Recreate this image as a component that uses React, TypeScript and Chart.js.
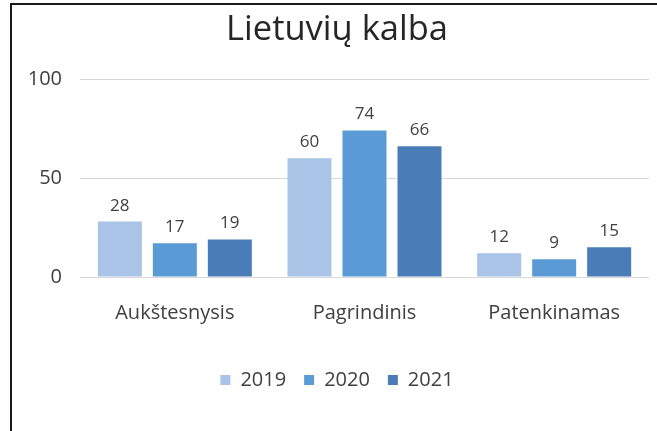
import React, { useEffect, useRef } from "react";
import { Chart, registerables } from "chart.js";

Chart.register(...registerables);

const categories = ["Aukštesnysis", "Pagrindinis", "Patenkinamas"];
const seriesNames = ["2019", "2020", "2021"];
const values2019 = [28, 60, 12];
const values2020 = [17, 74, 9];
const values2021 = [19, 66, 15];
const yTickValues = [0, 50, 100];
const titleText = "Lietuvių kalba";

const seriesColors = ["#a9c4e6", "#5b9bd5", "#4a7db8"];
const FONT = "'Open Sans', 'Noto Sans', sans-serif";
const TEXT = "#404040";

const dataLabelPlugin = {
  id: "dataLabels",
  afterDatasetsDraw(chart: any) {
    const ctx = chart.ctx;
    ctx.save();
    ctx.font = `17px ${FONT}`;
    ctx.fillStyle = TEXT;
    ctx.textAlign = "center";
    ctx.textBaseline = "alphabetic";
    chart.data.datasets.forEach((ds: any, i: number) => {
      const meta = chart.getDatasetMeta(i);
      meta.data.forEach((el: any, j: number) => {
        ctx.fillText(String(ds.data[j]), el.x, el.y - 11);
      });
    });
    ctx.restore();
  },
};

export default function App() {
  const canvasRef = useRef<HTMLCanvasElement | null>(null);

  useEffect(() => {
    const canvas = canvasRef.current;
    if (!canvas) return;
    const allSeries = [values2019, values2020, values2021];
    const chart = new Chart(canvas, {
      type: "bar",
      data: {
        labels: categories,
        datasets: seriesNames.map((name, i) => ({
          label: name,
          data: allSeries[i],
          backgroundColor: seriesColors[i],
          borderWidth: 0,
          categoryPercentage: 0.87,
          barPercentage: 0.8,
        })),
      },
      options: {
        responsive: false,
        animation: false,
        layout: { padding: { left: 25, right: 8, top: 0, bottom: 31 } },
        plugins: {
          tooltip: { enabled: false },
          title: {
            display: true,
            text: titleText,
            color: "#262626",
            font: { family: FONT, size: 34.5, weight: "normal" },
            padding: { top: 9, bottom: 28.6 },
          },
          legend: {
            display: true,
            position: "bottom",
            labels: {
              boxWidth: 10,
              boxHeight: 10,
              padding: 18,
              color: TEXT,
              font: { family: FONT, size: 20 },
            },
          },
        },
        scales: {
          x: {
            grid: { display: false, drawTicks: false },
            border: { display: false },
            ticks: {
              color: TEXT,
              padding: 24,
              font: { family: FONT, size: 20 },
            },
            afterFit(scale: any) {
              scale.height = 75;
            },
          },
          y: {
            min: 0,
            max: 100,
            afterBuildTicks(scale: any) {
              scale.ticks = yTickValues.map((v) => ({ value: v }));
            },
            grid: { color: "#d9d9d9", lineWidth: 1, drawTicks: false },
            border: { display: false },
            ticks: {
              color: TEXT,
              padding: 18,
              font: { family: FONT, size: 20 },
            },
            afterFit(scale: any) {
              scale.width = 55;
            },
          },
        },
      },
      plugins: [dataLabelPlugin],
    });
    return () => chart.destroy();
  }, []);

  return (
    <div
      style={{
        position: "fixed",
        left: 0,
        top: 0,
        width: 657,
        height: 431,
        background: "#ffffff",
        overflow: "hidden",
      }}
    >
      <canvas
        ref={canvasRef}
        width={657}
        height={431}
        style={{ position: "absolute", left: 0, top: 0, width: 657, height: 431 }}
      />
      <div
        style={{
          position: "absolute",
          left: 10,
          top: 3,
          right: 0,
          bottom: 0,
          borderLeft: "2px solid #1a1a1a",
          borderTop: "2px solid #1a1a1a",
          pointerEvents: "none",
        }}
      />
    </div>
  );
}
